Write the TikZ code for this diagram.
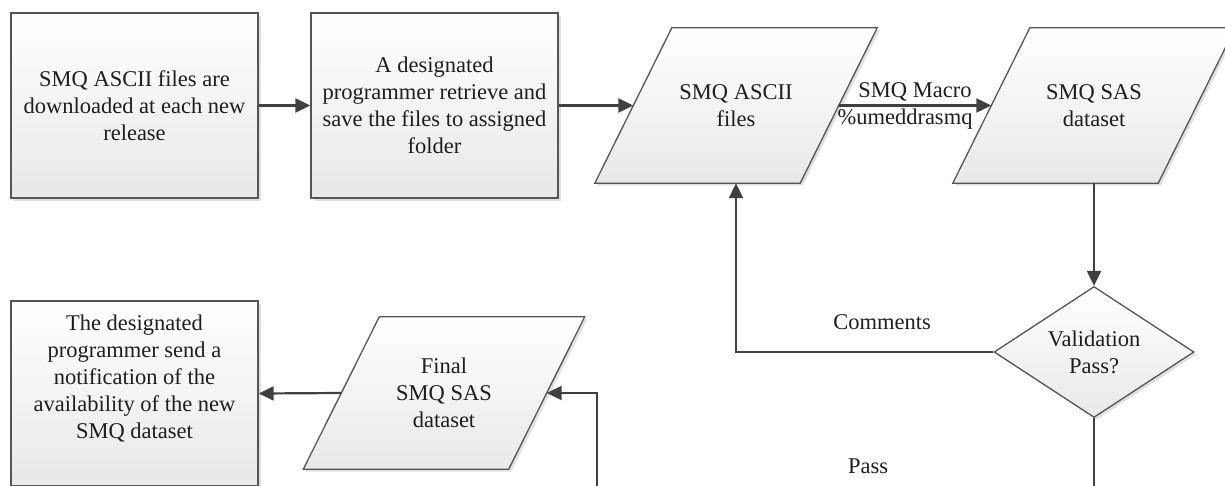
\documentclass[tikz,border=0pt]{standalone}
\usepackage{fontspec}
\setmainfont{Liberation Serif}
\usetikzlibrary{shapes.geometric,arrows.meta,shadows}
\definecolor{frameline}{RGB}{85,85,85}
\definecolor{flowline}{RGB}{64,64,64}
\definecolor{boxshade}{RGB}{232,232,232}
\definecolor{inktext}{RGB}{30,30,30}
\pgfdeclarelayer{background}
\pgfsetlayers{background,main}

\tikzset{
  shape fill/.style={draw=frameline, line width=1.3pt, top color=white, bottom color=boxshade,
    drop shadow={shadow xshift=2.5pt, shadow yshift=-2.5pt, fill=black, opacity=0.12}},
  shape text/.style={text=inktext, align=center, inner sep=0pt, font=\fontsize{22.5}{27}\selectfont},
  stepbox/.style={shape fill, shape text, rectangle, minimum width=247pt, minimum height=185pt},
  databox/.style={shape text, rectangle, minimum width=205pt, minimum height=155pt},
  checkbox/.style={shape fill, shape text, diamond, aspect=1.53, minimum width=200pt, minimum height=131pt},
  flow/.style={draw=flowline, line width=2.2pt, -{Triangle[length=15pt,width=14pt]}},
  flowlabel/.style={text=inktext, font=\fontsize{22.5}{27}\selectfont, inner sep=1pt}
}

\begin{document}
\begin{tikzpicture}[x=1pt, y=-1pt]
    % Frame
    \path[use as bounding box] (0,0) rectangle (1225,485);
    \clip (0,0) rectangle (1225,485);

    % Top row
    \node[stepbox] (download) at (134.5,105.5) {SMQ ASCII files are\\downloaded at each new\\release};
    \node[stepbox] (retrieve) at (434.5,105.5) {A designated\\programmer retrieve and\\save the files to assigned\\folder};
    \node[databox] (asciifiles) at (736,105.5) {SMQ ASCII\\files};
    \node[databox] (sasdata) at (1094,105.5) {SMQ SAS\\dataset};

    % Check
    \node[checkbox] (validate) at (1094,352) {Validation\\Pass?};

    % Bottom row
    \node[databox, minimum height=152pt] (finaldata) at (444,393) {Final\\SMQ SAS\\dataset};
    \node[stepbox] (notify) at (134.5,393.5) {};
    \node[shape text] (notifytext) at ([yshift=15pt]notify.center) {The designated\\programmer send a\\notification of the\\availability of the new\\SMQ dataset};

    % Parallelogram outlines
    \begin{pgfonlayer}{background}
    \foreach \n/\s in {asciifiles/38.5, sasdata/38.5, finaldata/38}
        \path[shape fill] ([xshift=\s pt]\n.north west) -- ([xshift=\s pt]\n.north east)
            -- ([xshift=-\s pt]\n.south east) -- ([xshift=-\s pt]\n.south west) -- cycle;
    \end{pgfonlayer}

    % Flow
    \draw[flow] (download) -- (retrieve);
    \draw[flow] (retrieve.east) -- (asciifiles.west);
    \draw[flow] (asciifiles.east) -- node[flowlabel, above=2pt] (macro) {SMQ Macro}
        node[flowlabel, below=1pt, xshift=-10pt] (macroname) {\%umeddrasmq} (sasdata.west);
    \draw[flow] (sasdata.south) -- (validate.north);
    \draw[flow] (validate.west) -| (asciifiles.south);
    \node[flowlabel] (comments) at (882,322) {Comments};
    \coordinate (passturn) at (597,530);
    \draw[flow] (validate.south) |- (passturn) |- (finaldata.east);
    \node[flowlabel] (pass) at (868,466) {Pass};
    \draw[flow] (finaldata.west) -- (notify.east);
\end{tikzpicture}
\end{document}
